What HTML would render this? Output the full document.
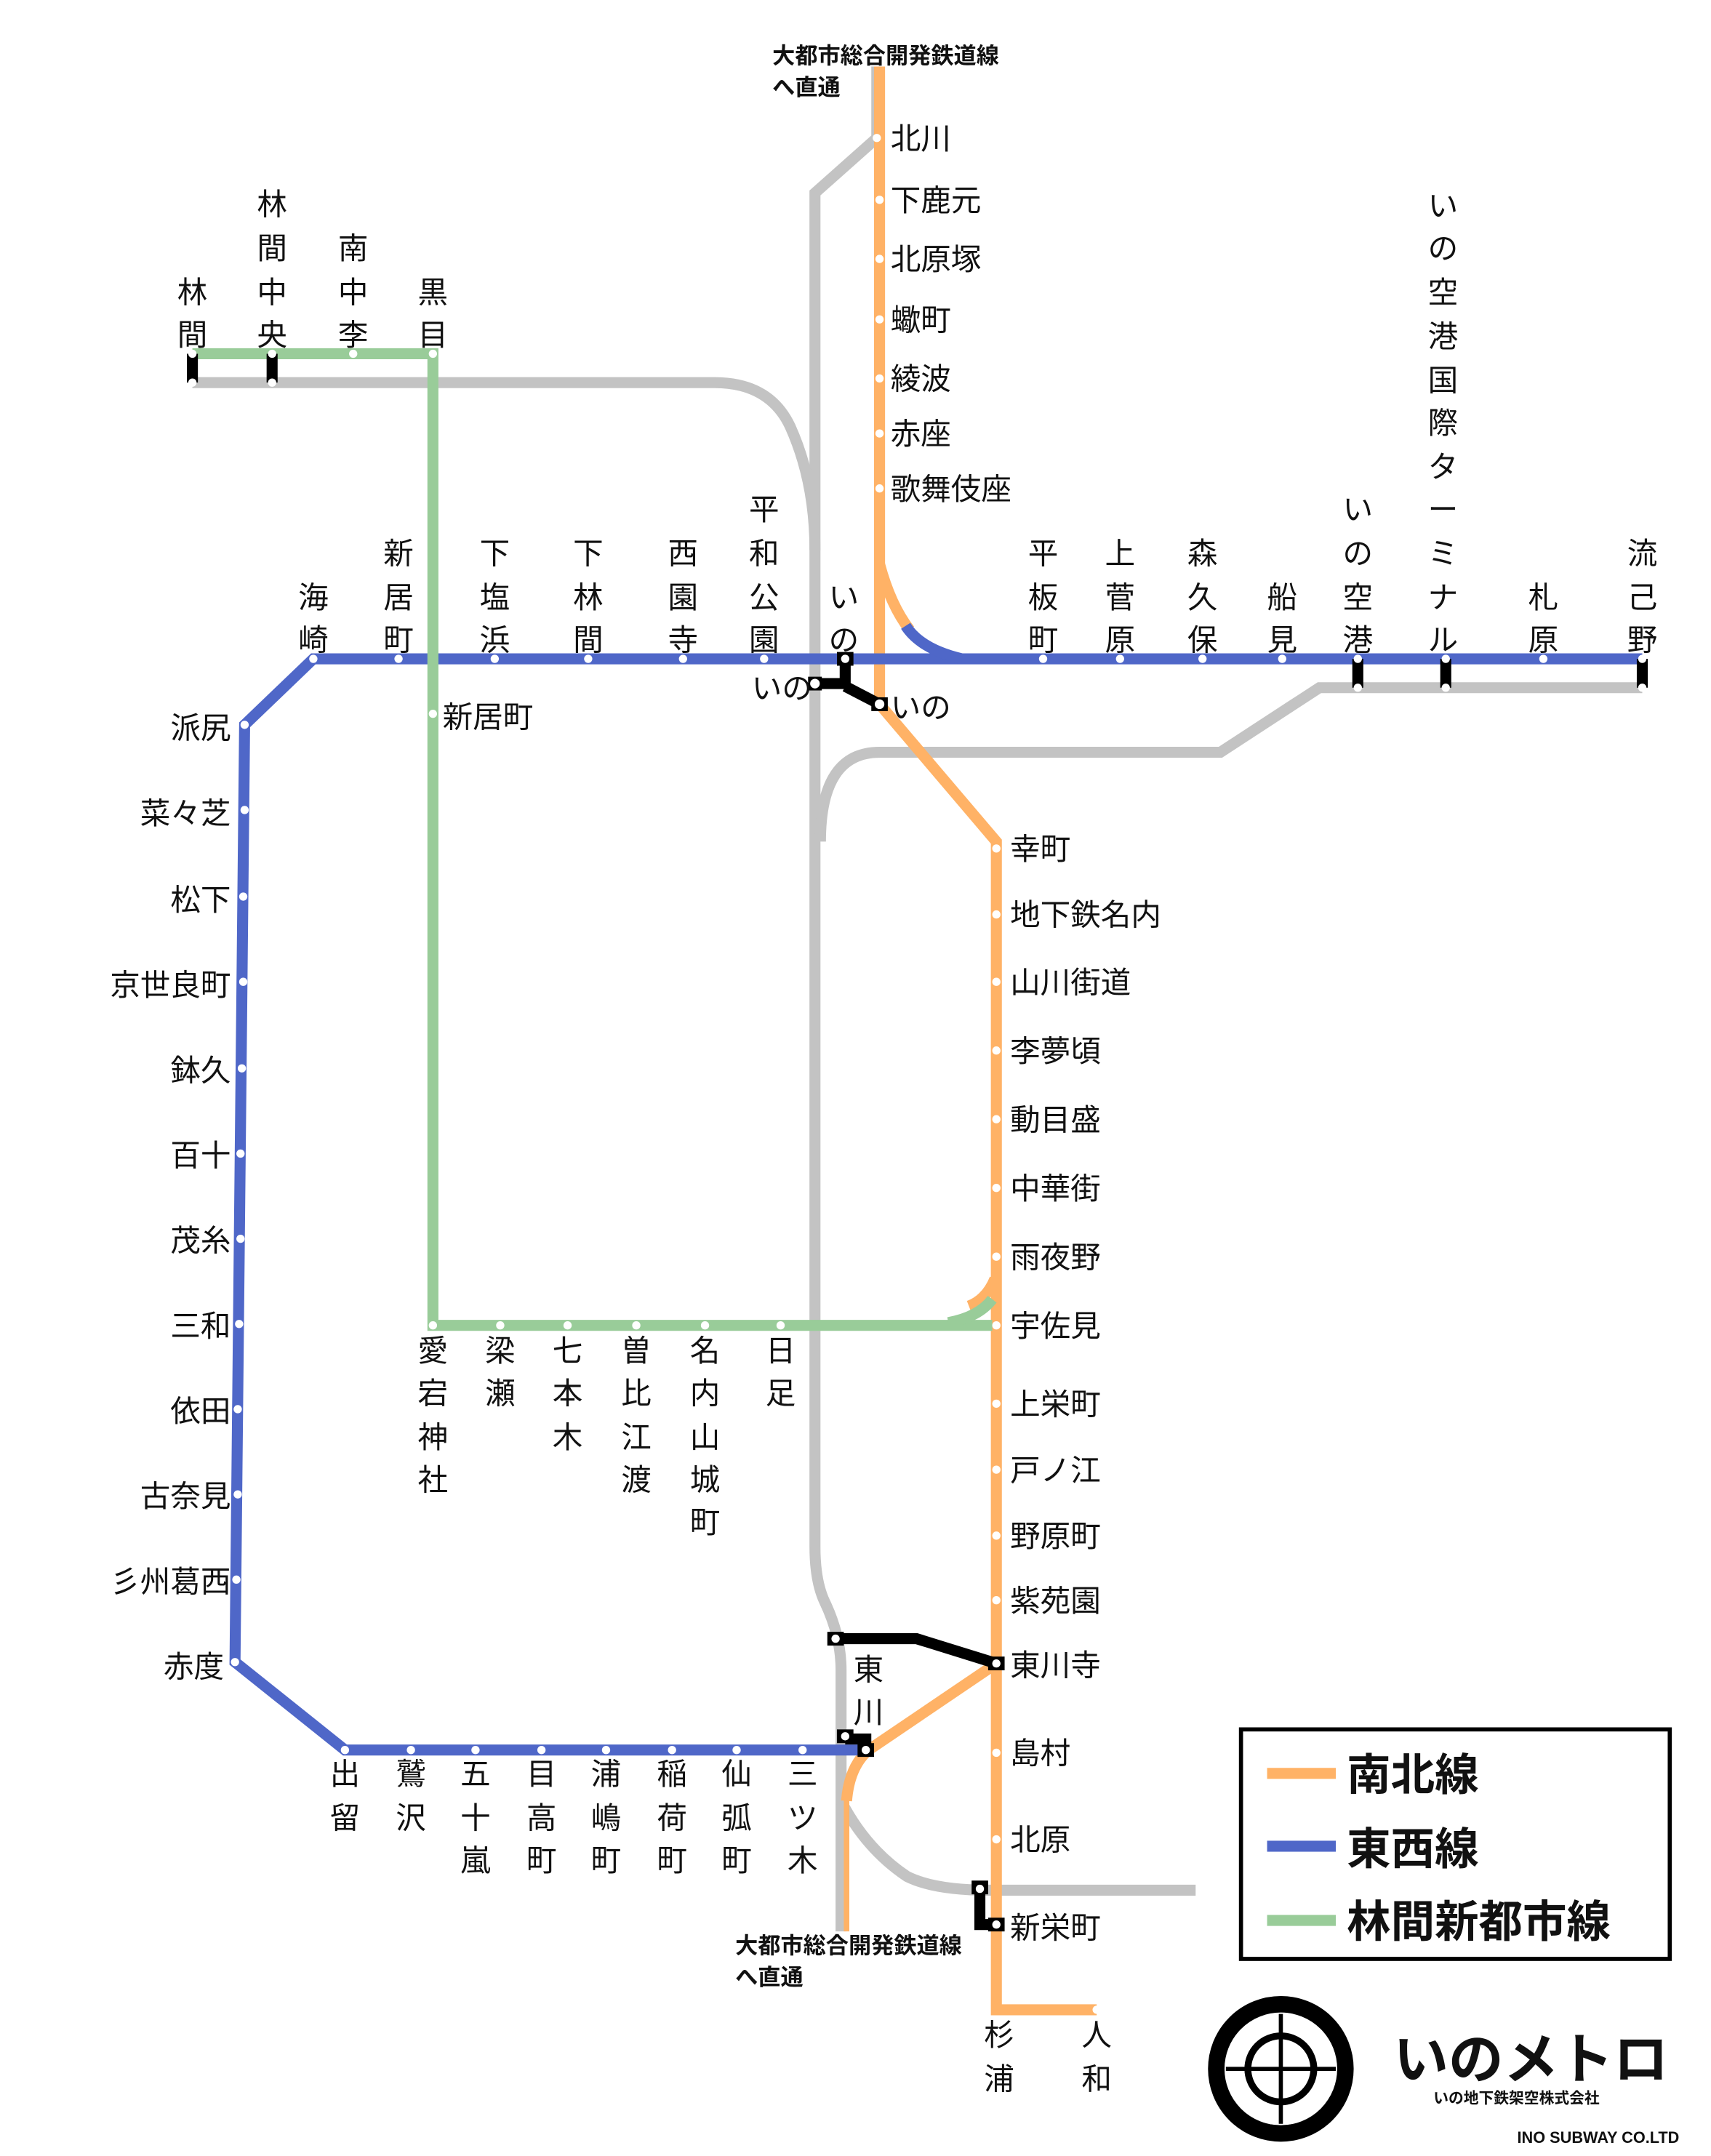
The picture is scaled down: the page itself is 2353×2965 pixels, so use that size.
<!DOCTYPE html>
<html><head><meta charset="utf-8"><style>
html,body{margin:0;padding:0;background:#fff}
svg{display:block}
text{font-family:"Liberation Sans","Noto Sans CJK JP",sans-serif;fill:#111}
.s{font-size:22px}
.v{font-size:22px;text-anchor:middle}
.r{font-size:22px;text-anchor:end}
</style></head><body>
<svg width="2353" height="2965" viewBox="0 0 1245 1568" xmlns="http://www.w3.org/2000/svg">
<rect width="1245" height="1568" fill="#fff"/>
<g fill="none" stroke="#c3c3c3" stroke-width="8">
<path d="M638 48 V100 L593 140 V1125 Q593 1150 600 1165 Q612 1190 612 1215 V1405"/>
<path d="M140 278 H520 Q560 278 575 310 Q593 350 593 400"/>
<path d="M1195 500 H960 L888 547 H640 Q597 547 597 612"/>
<path d="M612 1310 Q630 1345 660 1365 Q680 1375 720 1375 H870"/>
</g>
<g fill="none" stroke="#ffb266" stroke-width="8">
<path d="M640 48 V512 L725 612 V1462 H798"/>
<path d="M640 410 Q648 440 662 458"/>
<path d="M725 1210 L632 1273 Q618 1285 616 1310"/>
<path d="M724 930 Q718 945 705 950"/>
</g>
<path d="M616 1300 V1405" stroke="#ffb266" stroke-width="4" fill="none"/>
<g fill="none" stroke="#4f67c8" stroke-width="8">
<path d="M1195 479 H228 L178 527 L171 1209 L251 1273 H630"/>
<path d="M659 455 Q670 472 700 479"/>
</g>
<g fill="none" stroke="#99cc99" stroke-width="8">
<path d="M140 257 H315 V964 H722"/>
<path d="M690 962 Q712 958 722 945"/>
</g>
<g stroke="#000" fill="none" stroke-width="8">
<path d="M140 257 V278"/><path d="M198 257 V278"/>
<path d="M988 479 V500"/><path d="M1052 479 V500"/><path d="M1195 479 V500"/>
<path d="M615 479 V497 H593 M615 499 L640 512"/>
<path d="M608 1192 H667 L725 1210"/>
<path d="M615 1265 H630 V1273"/>
<path d="M713 1372 V1400 H725"/>
</g>
<g fill="#000">
<rect x="609" y="474" width="12" height="10"/><rect x="588" y="492" width="10" height="10"/><rect x="634" y="507" width="12" height="10"/>
<rect x="602" y="1187" width="12" height="10"/><rect x="719" y="1205" width="12" height="10"/>
<rect x="609" y="1258" width="12" height="10"/><rect x="624" y="1268" width="12" height="10"/>
<rect x="707" y="1368" width="12" height="10"/><rect x="719" y="1395" width="12" height="10"/>
</g>
<g fill="#fff">
<circle cx="140" cy="257" r="3"/><circle cx="198" cy="257" r="3"/><circle cx="257" cy="257" r="3"/><circle cx="315" cy="257" r="3"/>
<circle cx="140" cy="278" r="3"/><circle cx="198" cy="278" r="3"/>
<circle cx="638" cy="100" r="3"/><circle cx="640" cy="145" r="3"/><circle cx="640" cy="188" r="3"/><circle cx="640" cy="232" r="3"/><circle cx="640" cy="275" r="3"/><circle cx="640" cy="315" r="3"/><circle cx="640" cy="355" r="3"/>
<circle cx="228" cy="479" r="3"/><circle cx="290" cy="479" r="3"/><circle cx="360" cy="479" r="3"/><circle cx="428" cy="479" r="3"/><circle cx="497" cy="479" r="3"/><circle cx="556" cy="479" r="3"/><circle cx="615" cy="479" r="3"/><circle cx="759" cy="479" r="3"/><circle cx="815" cy="479" r="3"/><circle cx="875" cy="479" r="3"/><circle cx="933" cy="479" r="3"/><circle cx="988" cy="479" r="3"/><circle cx="1052" cy="479" r="3"/><circle cx="1123" cy="479" r="3"/><circle cx="1195" cy="479" r="3"/>
<circle cx="988" cy="500" r="3"/><circle cx="1052" cy="500" r="3"/><circle cx="1195" cy="500" r="3"/>
<circle cx="593" cy="497" r="3.5"/><circle cx="640" cy="512" r="3.5"/><circle cx="315" cy="519" r="3"/>
<circle cx="178" cy="527" r="3"/><circle cx="178" cy="589" r="3"/><circle cx="177" cy="652" r="3"/><circle cx="177" cy="714" r="3"/><circle cx="176" cy="777" r="3"/><circle cx="175" cy="839" r="3"/><circle cx="175" cy="901" r="3"/><circle cx="174" cy="963" r="3"/><circle cx="173" cy="1025" r="3"/><circle cx="173" cy="1087" r="3"/><circle cx="172" cy="1149" r="3"/><circle cx="171" cy="1209" r="3"/>
<circle cx="251" cy="1273" r="3"/><circle cx="299" cy="1273" r="3"/><circle cx="346" cy="1273" r="3"/><circle cx="394" cy="1273" r="3"/><circle cx="441" cy="1273" r="3"/><circle cx="489" cy="1273" r="3"/><circle cx="536" cy="1273" r="3"/><circle cx="584" cy="1273" r="3"/><circle cx="630" cy="1273" r="3"/><circle cx="615" cy="1263" r="3"/>
<circle cx="315" cy="964" r="3"/><circle cx="364" cy="964" r="3"/><circle cx="413" cy="964" r="3"/><circle cx="463" cy="964" r="3"/><circle cx="513" cy="964" r="3"/><circle cx="568" cy="964" r="3"/>
<circle cx="725" cy="617" r="3"/><circle cx="725" cy="665" r="3"/><circle cx="725" cy="714" r="3"/><circle cx="725" cy="764" r="3"/><circle cx="725" cy="814" r="3"/><circle cx="725" cy="864" r="3"/><circle cx="725" cy="914" r="3"/><circle cx="725" cy="964" r="3"/><circle cx="725" cy="1021" r="3"/><circle cx="725" cy="1069" r="3"/><circle cx="725" cy="1117" r="3"/><circle cx="725" cy="1164" r="3"/><circle cx="725" cy="1210" r="3"/><circle cx="725" cy="1275" r="3"/><circle cx="725" cy="1338" r="3"/><circle cx="725" cy="1400" r="3"/><circle cx="713" cy="1374" r="3"/><circle cx="608" cy="1192" r="3"/><circle cx="798" cy="1462" r="3"/>
</g>
<text x="562" y="46" style="font-size:16.5px;font-weight:bold">大都市総合開発鉄道線</text>
<text x="562" y="69" style="font-size:16.5px;font-weight:bold">へ直通</text>
<text x="535" y="1421" style="font-size:16.5px;font-weight:bold">大都市総合開発鉄道線</text>
<text x="535" y="1444" style="font-size:16.5px;font-weight:bold">へ直通</text>
<text class="s" x="648" y="108">北川</text>
<text class="s" x="648" y="153">下鹿元</text>
<text class="s" x="648" y="196">北原塚</text>
<text class="s" x="648" y="240">蠍町</text>
<text class="s" x="648" y="283">綾波</text>
<text class="s" x="648" y="323">赤座</text>
<text class="s" x="648" y="363">歌舞伎座</text>
<text class="s" x="735" y="625">幸町</text>
<text class="s" x="735" y="673">地下鉄名内</text>
<text class="s" x="735" y="722">山川街道</text>
<text class="s" x="735" y="772">李夢頃</text>
<text class="s" x="735" y="822">動目盛</text>
<text class="s" x="735" y="872">中華街</text>
<text class="s" x="735" y="922">雨夜野</text>
<text class="s" x="735" y="972">宇佐見</text>
<text class="s" x="735" y="1029">上栄町</text>
<text class="s" x="735" y="1077">戸ノ江</text>
<text class="s" x="735" y="1125">野原町</text>
<text class="s" x="735" y="1172">紫苑園</text>
<text class="s" x="735" y="1219">東川寺</text>
<text class="s" x="735" y="1283">島村</text>
<text class="s" x="735" y="1346">北原</text>
<text class="s" x="735" y="1410">新栄町</text>
<text class="s" x="547" y="508">いの</text>
<text class="s" x="648" y="522">いの</text>
<text class="s" x="322" y="529">新居町</text>
<text class="r" x="168" y="537">派尻</text>
<text class="r" x="168" y="599">菜々芝</text>
<text class="r" x="168" y="662">松下</text>
<text class="r" x="168" y="724">京世良町</text>
<text class="r" x="168" y="786">鉢久</text>
<text class="r" x="168" y="848">百十</text>
<text class="r" x="168" y="910">茂糸</text>
<text class="r" x="168" y="972">三和</text>
<text class="r" x="168" y="1034">依田</text>
<text class="r" x="168" y="1096">古奈見</text>
<text class="r" x="168" y="1158">彡州葛西</text>
<text class="r" x="163" y="1220">赤度</text>
<g class="v">
<text class="v"><tspan x="140" y="220">林</tspan><tspan x="140" y="251">間</tspan></text>
<text class="v"><tspan x="198" y="156">林</tspan><tspan x="198" y="188">間</tspan><tspan x="198" y="220">中</tspan><tspan x="198" y="251">央</tspan></text>
<text class="v"><tspan x="257" y="188">南</tspan><tspan x="257" y="220">中</tspan><tspan x="257" y="251">李</tspan></text>
<text class="v"><tspan x="315" y="220">黒</tspan><tspan x="315" y="251">目</tspan></text>
<text class="v"><tspan x="228" y="442">海</tspan><tspan x="228" y="473">崎</tspan></text>
<text class="v"><tspan x="290" y="410">新</tspan><tspan x="290" y="442">居</tspan><tspan x="290" y="473">町</tspan></text>
<text class="v"><tspan x="360" y="410">下</tspan><tspan x="360" y="442">塩</tspan><tspan x="360" y="473">浜</tspan></text>
<text class="v"><tspan x="428" y="410">下</tspan><tspan x="428" y="442">林</tspan><tspan x="428" y="473">間</tspan></text>
<text class="v"><tspan x="497" y="410">西</tspan><tspan x="497" y="442">園</tspan><tspan x="497" y="473">寺</tspan></text>
<text class="v"><tspan x="556" y="378">平</tspan><tspan x="556" y="410">和</tspan><tspan x="556" y="442">公</tspan><tspan x="556" y="473">園</tspan></text>
<text class="v"><tspan x="614" y="442">い</tspan><tspan x="614" y="473">の</tspan></text>
<text class="v"><tspan x="759" y="410">平</tspan><tspan x="759" y="442">板</tspan><tspan x="759" y="473">町</tspan></text>
<text class="v"><tspan x="815" y="410">上</tspan><tspan x="815" y="442">菅</tspan><tspan x="815" y="473">原</tspan></text>
<text class="v"><tspan x="875" y="410">森</tspan><tspan x="875" y="442">久</tspan><tspan x="875" y="473">保</tspan></text>
<text class="v"><tspan x="933" y="442">船</tspan><tspan x="933" y="473">見</tspan></text>
<text class="v"><tspan x="988" y="378">い</tspan><tspan x="988" y="410">の</tspan><tspan x="988" y="442">空</tspan><tspan x="988" y="473">港</tspan></text>
<text class="v"><tspan x="1050" y="157">い</tspan><tspan x="1050" y="188">の</tspan><tspan x="1050" y="220">空</tspan><tspan x="1050" y="252">港</tspan><tspan x="1050" y="284">国</tspan><tspan x="1050" y="315">際</tspan><tspan x="1050" y="347">タ</tspan><tspan x="1050" y="378">ー</tspan><tspan x="1050" y="410">ミ</tspan><tspan x="1050" y="442">ナ</tspan><tspan x="1050" y="473">ル</tspan></text>
<text class="v"><tspan x="1123" y="442">札</tspan><tspan x="1123" y="473">原</tspan></text>
<text class="v"><tspan x="1195" y="410">流</tspan><tspan x="1195" y="442">己</tspan><tspan x="1195" y="473">野</tspan></text>
<text class="v"><tspan x="315" y="990">愛</tspan><tspan x="315" y="1021">宕</tspan><tspan x="315" y="1053">神</tspan><tspan x="315" y="1084">社</tspan></text>
<text class="v"><tspan x="364" y="990">梁</tspan><tspan x="364" y="1021">瀬</tspan></text>
<text class="v"><tspan x="413" y="990">七</tspan><tspan x="413" y="1021">本</tspan><tspan x="413" y="1053">木</tspan></text>
<text class="v"><tspan x="463" y="990">曽</tspan><tspan x="463" y="1021">比</tspan><tspan x="463" y="1053">江</tspan><tspan x="463" y="1084">渡</tspan></text>
<text class="v"><tspan x="513" y="990">名</tspan><tspan x="513" y="1021">内</tspan><tspan x="513" y="1053">山</tspan><tspan x="513" y="1084">城</tspan><tspan x="513" y="1115">町</tspan></text>
<text class="v"><tspan x="568" y="990">日</tspan><tspan x="568" y="1021">足</tspan></text>
<text class="v"><tspan x="632" y="1222">東</tspan><tspan x="632" y="1253">川</tspan></text>
<text class="v"><tspan x="251" y="1298">出</tspan><tspan x="251" y="1330">留</tspan></text>
<text class="v"><tspan x="299" y="1298">鷲</tspan><tspan x="299" y="1330">沢</tspan></text>
<text class="v"><tspan x="346" y="1298">五</tspan><tspan x="346" y="1330">十</tspan><tspan x="346" y="1361">嵐</tspan></text>
<text class="v"><tspan x="394" y="1298">目</tspan><tspan x="394" y="1330">高</tspan><tspan x="394" y="1361">町</tspan></text>
<text class="v"><tspan x="441" y="1298">浦</tspan><tspan x="441" y="1330">嶋</tspan><tspan x="441" y="1361">町</tspan></text>
<text class="v"><tspan x="489" y="1298">稲</tspan><tspan x="489" y="1330">荷</tspan><tspan x="489" y="1361">町</tspan></text>
<text class="v"><tspan x="536" y="1298">仙</tspan><tspan x="536" y="1330">弧</tspan><tspan x="536" y="1361">町</tspan></text>
<text class="v"><tspan x="584" y="1298">三</tspan><tspan x="584" y="1330">ツ</tspan><tspan x="584" y="1361">木</tspan></text>
<text class="v"><tspan x="727" y="1488">杉</tspan><tspan x="727" y="1520">浦</tspan></text>
<text class="v"><tspan x="798" y="1488">人</tspan><tspan x="798" y="1520">和</tspan></text>
</g>
<rect x="903" y="1258" width="312" height="167" fill="none" stroke="#000" stroke-width="3"/>
<rect x="922" y="1286" width="50" height="8" fill="#ffb266"/>
<rect x="922" y="1339" width="50" height="8" fill="#4f67c8"/>
<rect x="922" y="1393" width="50" height="8" fill="#99cc99"/>
<text x="980" y="1302" style="font-size:32px;font-weight:bold">南北線</text>
<text x="980" y="1356" style="font-size:32px;font-weight:bold">東西線</text>
<text x="980" y="1409" style="font-size:32px;font-weight:bold">林間新都市線</text>
<circle cx="932" cy="1505" r="47" fill="none" stroke="#000" stroke-width="12"/>
<circle cx="932" cy="1505" r="24" fill="none" stroke="#000" stroke-width="5"/>
<path d="M932 1465 V1545 M892 1505 H972" stroke="#000" stroke-width="3"/>
<text x="1014" y="1512" style="font-size:40px;font-weight:bold">いのメトロ</text>
<text x="1043" y="1530" style="font-size:11px;font-weight:bold">いの地下鉄架空株式会社</text>
<text x="1104" y="1559" style="font-size:11.5px;font-weight:bold">INO SUBWAY CO.LTD</text>
</svg>
</body></html>
